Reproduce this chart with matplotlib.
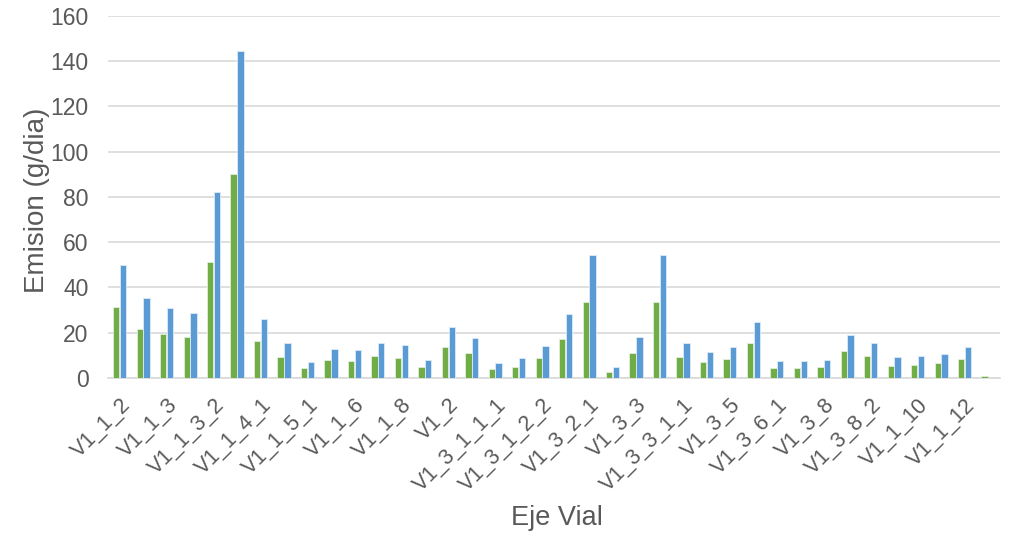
import numpy as np
import matplotlib.pyplot as plt

# categorias visibles en el eje (Excel muestra una de cada dos)
tick_labels = ['V1_1_2', 'V1_1_3', 'V1_1_3_2', 'V1_1_4_1', 'V1_1_5_1', 'V1_1_6',
               'V1_1_8', 'V1_2', 'V1_3_1_1_1', 'V1_3_1_2_2', 'V1_3_2_1', 'V1_3_3',
               'V1_3_3_1_1', 'V1_3_5', 'V1_3_6_1', 'V1_3_8', 'V1_3_8_2', 'V1_1_10',
               'V1_1_12']

verde = [31.2, 21.8, 19.4, 18.0, 51.3, 90.3, 16.2, 9.4, 4.3, 8.1,
         7.6, 9.7, 9.0, 5.0, 13.8, 10.8, 4.0, 5.0, 8.6, 17.4,
         33.6, 2.8, 11.1, 33.6, 9.2, 7.1, 8.4, 15.4, 4.4, 4.4,
         4.7, 11.9, 9.5, 5.3, 5.9, 6.8, 8.4, 0.9]
azul = [50.1, 35.2, 30.9, 28.7, 82.0, 144.5, 26.1, 15.5, 7.2, 12.8,
        12.5, 15.5, 14.7, 7.8, 22.7, 17.7, 6.5, 8.6, 14.0, 28.2,
        54.5, 4.9, 18.0, 54.2, 15.3, 11.3, 13.5, 24.8, 7.3, 7.3,
        7.9, 19.0, 15.3, 9.1, 9.9, 10.7, 13.8, 0.0]

plt.rcParams['font.family'] = ['Liberation Sans', 'DejaVu Sans']
gris = '#595959'

fig = plt.figure(figsize=(10.14, 5.33), dpi=100)
ax = fig.add_axes([0.1065, 0.291, 0.8795, 0.679])

x = np.arange(len(verde))
w = 0.27
ax.bar(x - 0.145, verde, w, color='#70AD47', edgecolor='#E2EFDA', linewidth=0.6, zorder=3)
ax.bar(x + 0.145, azul, w, color='#5B9BD5', edgecolor='#DDEBF7', linewidth=0.6, zorder=3)

ax.set_xlim(-0.5, len(verde) - 0.5)
ax.set_ylim(0, 160)
ax.set_yticks(np.arange(0, 161, 20))
ax.yaxis.grid(True, color='#D9D9D9', linewidth=1.2, zorder=0)
ax.set_axisbelow(True)

ax.set_xticks(x[::2])
ax.set_xticklabels(tick_labels, rotation=45, ha='right', rotation_mode='anchor')
ax.tick_params(axis='x', length=0, labelsize=15.5, colors=gris, pad=12)
ax.tick_params(axis='y', length=0, labelsize=16.5, colors=gris, pad=14)

for s in ['top', 'right', 'left']:
    ax.spines[s].set_visible(False)
ax.spines['bottom'].set_color('#D9D9D9')
ax.spines['bottom'].set_linewidth(1.2)

ax.set_ylabel('Emision (g/dia)', fontsize=20, color=gris)
ax.yaxis.set_label_coords(-0.065, 0.49)
fig.text(0.549, 0.015, 'Eje Vial', fontsize=19.5, color=gris, ha='center')

fig.savefig('out.png', dpi=100)
